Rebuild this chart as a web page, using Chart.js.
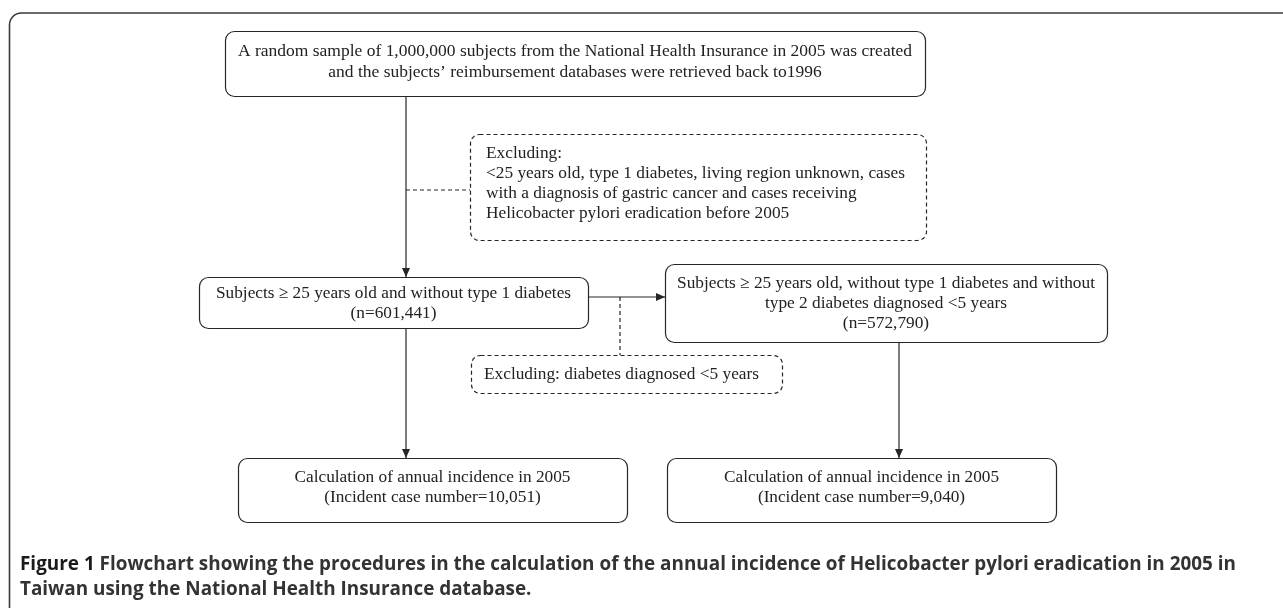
<!DOCTYPE html>
<html><head><meta charset="utf-8">
<script src="https://cdn.jsdelivr.net/npm/chart.js@4.4.1/dist/chart.umd.min.js"></script>
<style>html,body{margin:0;padding:0;background:#fff;overflow:hidden}canvas{display:block}</style>
</head><body>
<canvas id="c" width="1283" height="608"></canvas>
<script>
// ---- data (texts of the flowchart) ----
const sampleText = ["A random sample of 1,000,000 subjects from the National Health Insurance in 2005 was created",
                    "and the subjects\u2019 reimbursement databases were retrieved back to1996"];
const exclusion1Text = ["Excluding:",
                        "<25 years old, type 1 diabetes, living region unknown, cases",
                        "with a diagnosis of gastric cancer and cases receiving",
                        "Helicobacter pylori eradication before 2005"];
const cohortText = ["Subjects \u2265 25 years old and without type 1 diabetes", "(n=601,441)"];
const subCohortText = ["Subjects \u2265 25 years old, without type 1 diabetes and without",
                       "type 2 diabetes diagnosed <5 years", "(n=572,790)"];
const exclusion2Text = ["Excluding: diabetes diagnosed <5 years"];
const incidence1Text = ["Calculation of annual incidence in 2005", "(Incident case number=10,051)"];
const incidence2Text = ["Calculation of annual incidence in 2005", "(Incident case number=9,040)"];
const captionBold = "Figure 1";
const captionLines = [" Flowchart showing the procedures in the calculation of the annual incidence of Helicobacter pylori eradication in 2005 in",
                      "Taiwan using the National Health Insurance database."];

// ---- layout (coordinates in data units of the hidden 0..1283 x 0..608 scales) ----
// fitW: width (data units) that the widest text line of the box occupies
const boxes = [
  {t: sampleText,     x0: 225, y0: 31,  x1: 925,  y1: 96,  dash: false, align: 'center', fitW: 674, ys: [51, 72]},
  {t: exclusion1Text, x0: 470, y0: 134, x1: 926,  y1: 240, dash: true,  align: 'left', tx: 486, fitW: 419, ys: [153, 173, 193, 213]},
  {t: cohortText,     x0: 199, y0: 277, x1: 588,  y1: 328, dash: false, align: 'center', fitW: 355, ys: [293, 313]},
  {t: subCohortText,  x0: 665, y0: 264, x1: 1107, y1: 342, dash: false, align: 'center', fitW: 418, ys: [283, 303, 323]},
  {t: exclusion2Text, x0: 471, y0: 355, x1: 782,  y1: 393, dash: true,  align: 'left', tx: 484, fitW: 275, ys: [374]},
  {t: incidence1Text, x0: 238, y0: 458, x1: 627,  y1: 522, dash: false, align: 'center', fitW: 276, ys: [477, 497]},
  {t: incidence2Text, x0: 667, y0: 458, x1: 1056, y1: 522, dash: false, align: 'center', fitW: 275, ys: [477, 497]}
];
const connectors = [
  {pts: [[406, 96], [406, 277]], dash: false, arrow: 'down'},
  {pts: [[406, 190], [470, 190]], dash: true},
  {pts: [[588, 297], [665, 297]], dash: false, arrow: 'right'},
  {pts: [[620, 297], [620, 355]], dash: true},
  {pts: [[406, 328], [406, 458]], dash: false, arrow: 'down'},
  {pts: [[899, 342], [899, 458]], dash: false, arrow: 'down'}
];
const captionLayout = {x: 20, ys: [565, 590], right: 1236};

const INK = '#262626';
const DASH = [4, 3];
const SERIF = '17.3px "Liberation Serif", "Times New Roman", serif';
const CAPF = 'bold 19px "Open Sans", "DejaVu Sans", sans-serif';

const datasets = connectors.map(c => ({
  data: c.pts.map(p => ({x: p[0], y: p[1]})),
  showLine: true, pointRadius: 0, borderColor: INK, borderWidth: 1.2,
  borderDash: c.dash ? DASH : [], fill: false
}));

function rr(ctx, x0, y0, x1, y1, r) {
  ctx.beginPath();
  ctx.moveTo(x0 + r, y0);
  ctx.lineTo(x1 - r, y0); ctx.arcTo(x1, y0, x1, y0 + r, r);
  ctx.lineTo(x1, y1 - r); ctx.arcTo(x1, y1, x1 - r, y1, r);
  ctx.lineTo(x0 + r, y1); ctx.arcTo(x0, y1, x0, y1 - r, r);
  ctx.lineTo(x0, y0 + r); ctx.arcTo(x0, y0, x0 + r, y0, r);
  ctx.closePath();
}

const flowPlugin = {
  id: 'flow',
  beforeDatasetsDraw(chart) {
    const ctx = chart.ctx, X = chart.scales.x, Y = chart.scales.y;
    const px = v => X.getPixelForValue(v), py = v => Y.getPixelForValue(v);
    ctx.save();
    ctx.fillStyle = '#fff';
    ctx.fillRect(0, 0, chart.width, chart.height);
    ctx.strokeStyle = '#3a3a3a'; ctx.lineWidth = 1.6;
    ctx.beginPath();
    ctx.moveTo(px(9.5), py(608));
    ctx.lineTo(px(9.5), py(25));
    ctx.arcTo(px(9.5), py(13), px(22), py(13), 12);
    ctx.lineTo(px(1283), py(13));
    ctx.stroke();
    ctx.restore();
  },
  afterDatasetsDraw(chart) {
    const ctx = chart.ctx, X = chart.scales.x, Y = chart.scales.y;
    const px = v => X.getPixelForValue(v), py = v => Y.getPixelForValue(v);
    ctx.save();
    boxes.forEach(b => {
      ctx.strokeStyle = INK; ctx.lineWidth = 1.2;
      ctx.setLineDash(b.dash ? DASH : []);
      rr(ctx, Math.round(px(b.x0)) + 0.5, Math.round(py(b.y0)) + 0.5, Math.round(px(b.x1)) + 0.5, Math.round(py(b.y1)) + 0.5, 9);
      ctx.fillStyle = '#fff'; ctx.fill(); ctx.stroke();
      ctx.setLineDash([]);
      ctx.fillStyle = '#222';
      ctx.font = SERIF;
      ctx.textBaseline = 'middle';
      ctx.textAlign = b.align;
      const maxW = Math.max(...b.t.map(l => ctx.measureText(l).width));
      const sx = (px(b.fitW) - px(0)) / maxW;
      const tx = b.align === 'center' ? px((b.x0 + b.x1) / 2) : px(b.tx);
      b.t.forEach((line, i) => {
        ctx.save();
        ctx.translate(tx, py(b.ys[i]));
        ctx.scale(sx, 1);
        ctx.fillText(line, 0, 0);
        ctx.restore();
      });
    });
    ctx.fillStyle = INK;
    connectors.forEach(c => {
      if (!c.arrow) return;
      const e = c.pts[c.pts.length - 1];
      const x = px(e[0]), y = py(e[1]);
      ctx.beginPath();
      if (c.arrow === 'down') { ctx.moveTo(x, y); ctx.lineTo(x - 4, y - 9); ctx.lineTo(x + 4, y - 9); }
      else { ctx.moveTo(x, y); ctx.lineTo(x - 9, y - 4); ctx.lineTo(x - 9, y + 4); }
      ctx.closePath(); ctx.fill();
    });
    // caption, fitted horizontally to the reference width
    ctx.font = CAPF; ctx.textAlign = 'left'; ctx.textBaseline = 'middle';
    const fw = ctx.measureText(captionBold).width;
    const w1 = fw + ctx.measureText(captionLines[0]).width;
    const csx = (px(captionLayout.right) - px(captionLayout.x)) / w1;
    ctx.save();
    ctx.translate(px(captionLayout.x), py(captionLayout.ys[0]));
    ctx.scale(csx, 1);
    ctx.fillStyle = '#1a1a1a';
    ctx.fillText(captionBold, 0, 0);
    ctx.fillStyle = '#333';
    ctx.fillText(captionLines[0], fw, 0);
    ctx.restore();
    ctx.save();
    ctx.translate(px(captionLayout.x), py(captionLayout.ys[1]));
    ctx.scale(csx, 1);
    ctx.fillStyle = '#333';
    ctx.fillText(captionLines[1], 0, 0);
    ctx.restore();
    ctx.restore();
  }
};

new Chart(document.getElementById('c'), {
  type: 'scatter',
  data: {datasets},
  options: {
    responsive: false, animation: false, devicePixelRatio: 1,
    layout: {padding: 0},
    plugins: {legend: {display: false}, tooltip: {enabled: false}},
    scales: {
      x: {type: 'linear', min: 0, max: 1283, display: false},
      y: {type: 'linear', min: 0, max: 608, reverse: true, display: false}
    }
  },
  plugins: [flowPlugin]
});
</script>
</body></html>
